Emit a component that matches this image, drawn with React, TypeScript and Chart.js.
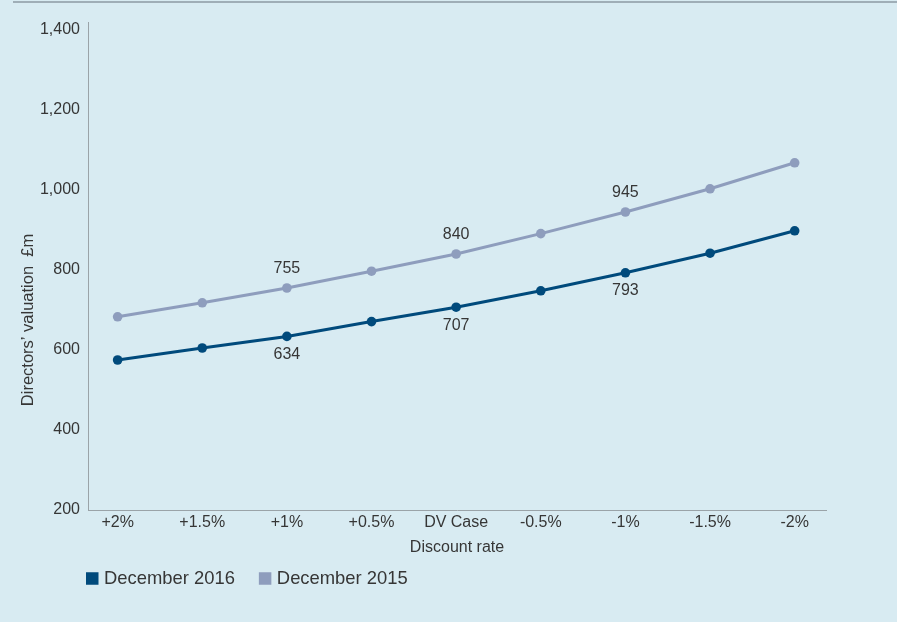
import React, { useEffect, useRef } from "react";
import { Chart, registerables } from "chart.js";

Chart.register(...registerables);

const categories = ["+2%", "+1.5%", "+1%", "+0.5%", "DV Case", "-0.5%", "-1%", "-1.5%", "-2%"];
const dec2016 = [575, 605, 634, 671, 707, 748, 793, 842, 898];
const dec2015 = [683, 718, 755, 797, 840, 891, 945, 1003, 1068];
const labelledIndices = [2, 4, 6];
const yTicks = [200, 400, 600, 800, 1000, 1200, 1400];
const seriesNames = ["December 2016", "December 2015"];
const yTitle = "Directors\u2019 valuation  \u00a3m";
const xTitle = "Discount rate";

const BG = "#d8ebf2";
const DARK = "#004a7c";
const LIGHT = "#8e9dbd";
const TEXT = "#363636";
const AXIS = "#9aa3a8";
const FONT = "'Liberation Sans', Arial, sans-serif";

const decorPlugin = {
  id: "decor",
  beforeDraw(chart: any) {
    const { ctx, width, height } = chart;
    ctx.save();
    ctx.fillStyle = BG;
    ctx.fillRect(0, 0, width, height);
    ctx.strokeStyle = "#8c9aa3";
    ctx.lineWidth = 1.5;
    ctx.beginPath();
    ctx.moveTo(13, 2);
    ctx.lineTo(width, 2);
    ctx.stroke();
    ctx.restore();
  },
  afterDraw(chart: any) {
    const { ctx } = chart;
    ctx.save();
    // y axis title
    ctx.fillStyle = TEXT;
    ctx.font = `16.5px ${FONT}`;
    ctx.textAlign = "center";
    ctx.textBaseline = "middle";
    ctx.translate(28, 320);
    ctx.rotate(-Math.PI / 2);
    ctx.fillText(yTitle, 0, 0);
    ctx.restore();

    // data labels
    ctx.save();
    ctx.fillStyle = TEXT;
    ctx.font = `16px ${FONT}`;
    ctx.textAlign = "center";
    ctx.textBaseline = "middle";
    chart.data.datasets.forEach((ds: any, di: number) => {
      const meta = chart.getDatasetMeta(di);
      labelledIndices.forEach((i) => {
        const el = meta.data[i];
        const v = ds.data[i].y;
        const dy = di === 0 ? 18 : -19;
        ctx.fillText(String(v), el.x, el.y + dy);
      });
    });
    ctx.restore();

    // legend
    ctx.save();
    ctx.font = `18.4px ${FONT}`;
    ctx.textBaseline = "middle";
    ctx.textAlign = "left";
    let x = 86;
    const yc = 578.5;
    chart.data.datasets.forEach((ds: any) => {
      ctx.fillStyle = ds.borderColor;
      ctx.fillRect(x, yc - 6.25, 12.5, 12.5);
      ctx.fillStyle = TEXT;
      ctx.fillText(ds.label, x + 18, yc);
      x += 18 + ctx.measureText(ds.label).width + 24;
    });
    ctx.restore();
  },
};

export default function App() {
  const ref = useRef<HTMLCanvasElement | null>(null);

  useEffect(() => {
    document.body.style.margin = "0";
    document.body.style.background = BG;
    const canvas = ref.current!;
    const chart = new Chart(canvas, {
      type: "line",
      data: {
        datasets: [
          {
            label: seriesNames[0],
            data: dec2016.map((v, i) => ({ x: i, y: v })),
            borderColor: DARK,
            backgroundColor: DARK,
            borderWidth: 3,
            pointRadius: 4.8,
            pointHoverRadius: 4.8,
            pointBorderWidth: 0,
            tension: 0,
          },
          {
            label: seriesNames[1],
            data: dec2015.map((v, i) => ({ x: i, y: v })),
            borderColor: LIGHT,
            backgroundColor: LIGHT,
            borderWidth: 3,
            pointRadius: 4.8,
            pointHoverRadius: 4.8,
            pointBorderWidth: 0,
            tension: 0,
          },
        ],
      },
      options: {
        animation: false,
        responsive: false,
        maintainAspectRatio: false,
        devicePixelRatio: 1,
        layout: { padding: { left: 0, top: 22, right: 71, bottom: 52 } },
        plugins: { legend: { display: false }, tooltip: { enabled: false } },
        scales: {
          x: {
            type: "linear",
            min: -0.35,
            max: 8.37,
            grid: { display: false, drawTicks: false },
            border: { display: true, color: AXIS, width: 1 },
            afterBuildTicks: (scale: any) => {
              scale.ticks = categories.map((_, i) => ({ value: i }));
            },
            afterFit: (scale: any) => {
              scale.height = 60;
            },
            ticks: {
              padding: 3,
              color: TEXT,
              font: { family: FONT, size: 16 },
              maxRotation: 0,
              autoSkip: false,
              callback: (v: any) => categories[v] ?? "",
            },
            title: {
              display: true,
              text: xTitle,
              color: TEXT,
              font: { family: FONT, size: 16 },
              padding: { top: 0, bottom: 13 },
            },
          },
          y: {
            type: "linear",
            min: 200,
            max: 1420,
            grid: { display: false, drawTicks: false },
            border: { display: true, color: AXIS, width: 1 },
            afterBuildTicks: (scale: any) => {
              scale.ticks = yTicks.map((v) => ({ value: v }));
            },
            afterFit: (scale: any) => {
              scale.width = 88;
            },
            ticks: {
              padding: 8,
              color: TEXT,
              font: { family: FONT, size: 16 },
              callback: (v: any) => Number(v).toLocaleString("en-US"),
            },
          },
        },
      },
      plugins: [decorPlugin],
    } as any);
    return () => chart.destroy();
  }, []);

  return (
    <div style={{ width: 897, height: 622, background: BG }}>
      <canvas ref={ref} width={897} height={622} style={{ display: "block" }} />
    </div>
  );
}
